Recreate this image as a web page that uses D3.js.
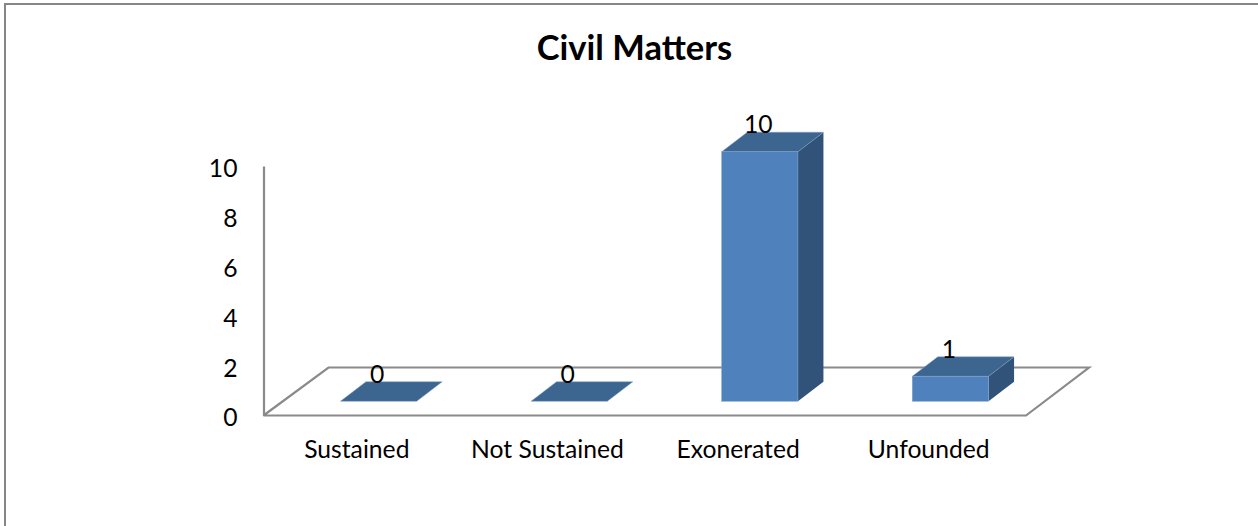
<!DOCTYPE html>
<html>
<head>
<meta charset="utf-8">
<script src="https://cdn.jsdelivr.net/npm/d3@7"></script>
<style>
  html, body { margin: 0; padding: 0; background: #fff; }
  svg { display: block; }
  text { font-family: Lato, "Open Sans", sans-serif; fill: #000; }
  .axis text { font-size: 24.7px; }
</style>
</head>
<body>
<svg id="chart" width="1258" height="526"></svg>
<script>
const chartTitle = "Civil Matters";
const categories = ["Sustained", "Not Sustained", "Exonerated", "Unfounded"];
const values = [0, 0, 10, 1];
const yTicks = [0, 2, 4, 6, 8, 10];

const width = 1258, height = 526;
const left = 263.5, right = 1026, floorY = 415.5, topY = 166;
const floorDepth = { dx: 65, dy: -48 };
const barDepth = { dx: 25.5, dy: -19.5 };
const gapWidth = 0.6;
const gray = "#8a8a8a";
const colors = { front: "#4f81bd", top: "#3c6590", side: "#325379", edge: "#7f9fc9" };

const svg = d3.select("#chart");

// Outer frame, open on the right and bottom page edges
svg.append("path")
  .attr("d", `M${width},4H5V${height}`)
  .attr("fill", "none").attr("stroke", "#868686").attr("stroke-width", 2);

svg.append("text")
  .attr("x", 634.5).attr("y", 60)
  .attr("text-anchor", "middle")
  .attr("font-size", 34.5).attr("font-weight", 700)
  .text(chartTitle);

const x = d3.scaleBand().domain(categories).range([left, right]).paddingInner(0).paddingOuter(0);
const y = d3.scaleLinear().domain([0, 10]).range([floorY, topY]);

// Floor of the 3D plot area
svg.append("path")
  .attr("d", d3.line()([
    [left, floorY],
    [left + floorDepth.dx, floorY + floorDepth.dy],
    [right + floorDepth.dx - 2, floorY + floorDepth.dy],
    [right, floorY],
    [left, floorY]
  ]))
  .attr("fill", "none").attr("stroke", gray).attr("stroke-width", 2.2);

// Value axis
const yAxis = svg.append("g").attr("class", "axis")
  .attr("transform", `translate(${left},0)`)
  .call(d3.axisLeft(y).tickValues(yTicks).tickSize(0).tickPadding(26).tickFormat(d3.format("d")));
yAxis.select(".domain").attr("stroke", gray).attr("stroke-width", 2.2);
yAxis.selectAll("text").attr("dy", "0.36em").attr("y", 1.5);

// Category axis: labels only, the floor edge serves as the line
const xAxis = svg.append("g").attr("class", "axis")
  .attr("transform", `translate(-2,${floorY})`)
  .call(d3.axisBottom(x).tickSize(0).tickPadding(25));
xAxis.select(".domain").remove();

// Bars sit halfway along the floor depth
const offX = (floorDepth.dx - barDepth.dx) / 2;
const offY = (floorDepth.dy - barDepth.dy) / 2;
const barW = x.bandwidth() * (1 - gapWidth);
const barLeft = c => x(c) + (x.bandwidth() - barW) / 2 + offX;
const barBase = floorY + offY;
const barTop = v => barBase - (floorY - y(v));

const bars = svg.selectAll("g.bar")
  .data(categories.map((c, i) => ({ c, v: values[i] })))
  .join("g").attr("class", "bar");

const line = d3.line();
bars.filter(d => d.v > 0).append("path")
  .attr("fill", colors.side)
  .attr("d", d => line([
    [barLeft(d.c) + barW, barTop(d.v)],
    [barLeft(d.c) + barW + barDepth.dx, barTop(d.v) + barDepth.dy],
    [barLeft(d.c) + barW + barDepth.dx, barBase + barDepth.dy],
    [barLeft(d.c) + barW, barBase]
  ]) + "Z");

bars.append("path")
  .attr("fill", colors.top)
  .attr("stroke", colors.edge).attr("stroke-width", 0.5)
  .attr("d", d => line([
    [barLeft(d.c), barTop(d.v)],
    [barLeft(d.c) + barDepth.dx, barTop(d.v) + barDepth.dy],
    [barLeft(d.c) + barW + barDepth.dx, barTop(d.v) + barDepth.dy],
    [barLeft(d.c) + barW, barTop(d.v)]
  ]) + "Z");

bars.filter(d => d.v > 0).append("rect")
  .attr("x", d => barLeft(d.c))
  .attr("y", d => barTop(d.v))
  .attr("width", barW)
  .attr("height", d => barBase - barTop(d.v))
  .attr("fill", colors.front)
  .attr("stroke", colors.edge).attr("stroke-width", 0.5);

// Value labels rest on the back edge of each bar's top face
bars.append("text")
  .attr("x", d => barLeft(d.c) + barW / 2 - 1.5)
  .attr("y", d => barTop(d.v) + barDepth.dy + 1)
  .attr("text-anchor", "middle")
  .attr("font-size", 24.7)
  .text(d => d.v);
</script>
</body>
</html>
